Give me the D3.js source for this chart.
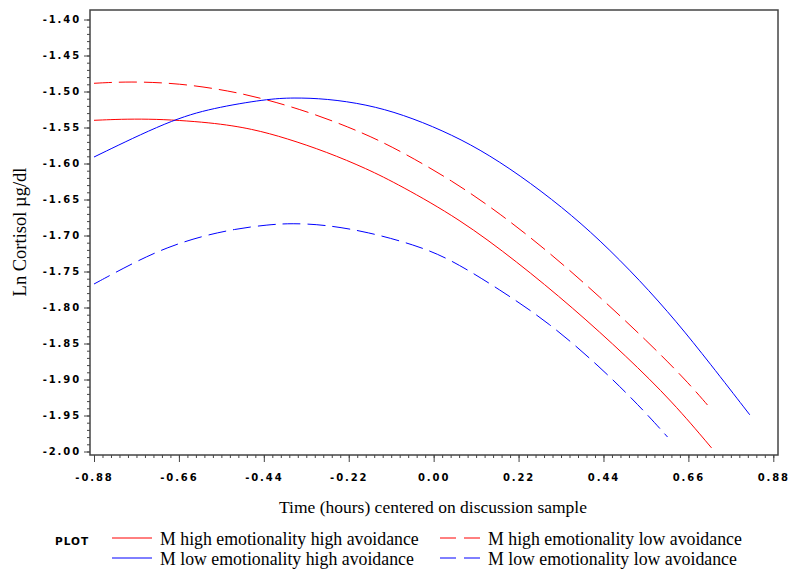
<!DOCTYPE html>
<html><head><meta charset="utf-8">
<script src="https://cdn.jsdelivr.net/npm/d3@7"></script>
<style>
body{margin:0;background:#fff;}
svg{display:block;}
.tick text{font-family:"DejaVu Sans",sans-serif;font-weight:bold;font-size:10px;letter-spacing:1.9px;fill:#000;}
.serif{font-family:"Liberation Serif","Times New Roman",serif;font-size:17.5px;fill:#000;}
</style></head>
<body>
<svg id="c" width="800" height="577"></svg>
<script>
// Data (x: time in hours centered on discussion sample, y: Ln cortisol)
const xTicks = [-0.88,-0.66,-0.44,-0.22,0.00,0.22,0.44,0.66,0.88];
const yTicks = [-2.00,-1.95,-1.90,-1.85,-1.80,-1.75,-1.70,-1.65,-1.60,-1.55,-1.50,-1.45,-1.40];

const seriesNames = [
  "M high emotionality high avoidance",
  "M high emotionality low avoidance",
  "M low emotionality high avoidance",
  "M low emotionality low avoidance"
];

const hiEmoHiAvoidX = [-0.88,-0.744,-0.573,-0.469,-0.381,-0.277,-0.174,-0.088,0.067,0.215,0.360,0.500,0.619,0.720];
const hiEmoHiAvoidY = [-1.540,-1.537,-1.543,-1.552,-1.565,-1.584,-1.607,-1.630,-1.677,-1.736,-1.800,-1.868,-1.931,-1.995];

const hiEmoLoAvoidX = [-0.88,-0.788,-0.658,-0.529,-0.433,-0.314,-0.184,-0.088,0.049,0.171,0.301,0.430,0.552,0.656,0.720];
const hiEmoLoAvoidY = [-1.4886,-1.4860,-1.4886,-1.4990,-1.5110,-1.5300,-1.5570,-1.5820,-1.6240,-1.6690,-1.7240,-1.7850,-1.8460,-1.9020,-1.942];

const loEmoHiAvoidX = [-0.88,-0.684,-0.573,-0.433,-0.365,-0.277,-0.174,-0.080,0.023,0.119,0.223,0.334,0.430,0.534,0.630,0.715,0.819];
const loEmoHiAvoidY = [-1.591,-1.5400,-1.5230,-1.5105,-1.5085,-1.5100,-1.5180,-1.5320,-1.5540,-1.5800,-1.6160,-1.6610,-1.7060,-1.7620,-1.8200,-1.8770,-1.949];

const loEmoLoAvoidX = [-0.88,-0.775,-0.689,-0.601,-0.516,-0.430,-0.368,-0.282,-0.171,-0.049,0.041,0.171,0.301,0.430,0.534,0.606];
const loEmoLoAvoidY = [-1.7674,-1.7370,-1.7160,-1.7010,-1.6910,-1.6850,-1.6830,-1.6850,-1.6950,-1.7130,-1.7320,-1.7750,-1.8220,-1.8820,-1.9370,-1.9799];

const seriesColors = ["#ff0000","#ff0000","#0000ff","#0000ff"];
const seriesDash = [null,"18,7",null,"18,7"];

const svg = d3.select("#c");
const frame = {l:90, r:778, t:10, b:455};
const x = d3.scaleLinear().domain([-0.88,0.88]).range([94,773.3]);
const y = d3.scaleLinear().domain([-2.00,-1.40]).range([451.5,19.5]);

// frame
svg.append("rect").attr("x",frame.l).attr("y",frame.t)
  .attr("width",frame.r-frame.l).attr("height",frame.b-frame.t)
  .attr("fill","#fff").attr("stroke","#444").attr("stroke-width",1.5);

// minor ticks
const xMinor = d3.range(0,81).map(i=>-0.88+i*0.022);
const yMinor = d3.range(0,61).map(i=>-2.00+i*0.01);
const gxm = svg.append("g").attr("transform",`translate(0,${frame.b})`)
  .call(d3.axisBottom(x).tickValues(xMinor).tickSize(3).tickFormat(""));
const gym = svg.append("g").attr("transform",`translate(${frame.l},0)`)
  .call(d3.axisLeft(y).tickValues(yMinor).tickSize(3).tickFormat(""));
[gxm,gym].forEach(g=>{g.select(".domain").remove(); g.selectAll("line").attr("stroke","#444");});

// major axes
const gx = svg.append("g").attr("transform",`translate(0,${frame.b})`)
  .call(d3.axisBottom(x).tickValues(xTicks).tickSize(7).tickPadding(12).tickFormat(d3.format(".2f")));
const gy = svg.append("g").attr("transform",`translate(${frame.l},0)`)
  .call(d3.axisLeft(y).tickValues(yTicks).tickSize(6).tickPadding(3).tickFormat(d3.format(".2f")));
[gx,gy].forEach(g=>{g.select(".domain").remove(); g.selectAll("line").attr("stroke","#444");});
gx.selectAll("text").text(d=>d3.format(".2f")(d).replace("−","-"));
gy.selectAll("text").text(d=>d3.format(".2f")(d).replace("−","-"));

// lines
const seriesX = [hiEmoHiAvoidX,hiEmoLoAvoidX,loEmoHiAvoidX,loEmoLoAvoidX];
const seriesY = [hiEmoHiAvoidY,hiEmoLoAvoidY,loEmoHiAvoidY,loEmoLoAvoidY];
const line = d3.line().x(d=>x(d[0])).y(d=>y(d[1])).curve(d3.curveBasis);
seriesX.forEach((xs,i)=>{
  const pts = xs.map((v,j)=>[v,seriesY[i][j]]);
  svg.append("path").datum(pts).attr("d",line)
    .attr("fill","none").attr("stroke",seriesColors[i]).attr("stroke-width",1)
    .attr("stroke-dasharray",seriesDash[i]);
});

// axis titles
svg.append("text").attr("class","serif").attr("x",433).attr("y",513)
  .attr("text-anchor","middle").text("Time (hours) centered on discussion sample");
svg.append("text").attr("class","serif").attr("transform","translate(26,232) rotate(-90)")
  .attr("text-anchor","middle").style("font-size","18.5px").text("Ln Cortisol µg/dl");

// legend
svg.append("text").attr("x",55).attr("y",545)
  .style("font-family","DejaVu Sans,sans-serif").style("font-weight","bold").style("font-size","10.5px")
  .style("letter-spacing","1px").text("PLOT");
const legPos = [[112,538],[440,538],[112,558],[440,558]];
seriesNames.forEach((n,i)=>{
  const [lx,ly] = legPos[i];
  svg.append("line").attr("x1",lx).attr("x2",lx+40).attr("y1",ly).attr("y2",ly)
    .attr("stroke",seriesColors[i]).attr("stroke-width",1)
    .attr("stroke-dasharray",seriesDash[i] ? "16,8" : null);
  svg.append("text").attr("class","serif").attr("x",lx+48).attr("y",ly+7).style("font-size","17.8px").text(n);
});
</script>
</body></html>
